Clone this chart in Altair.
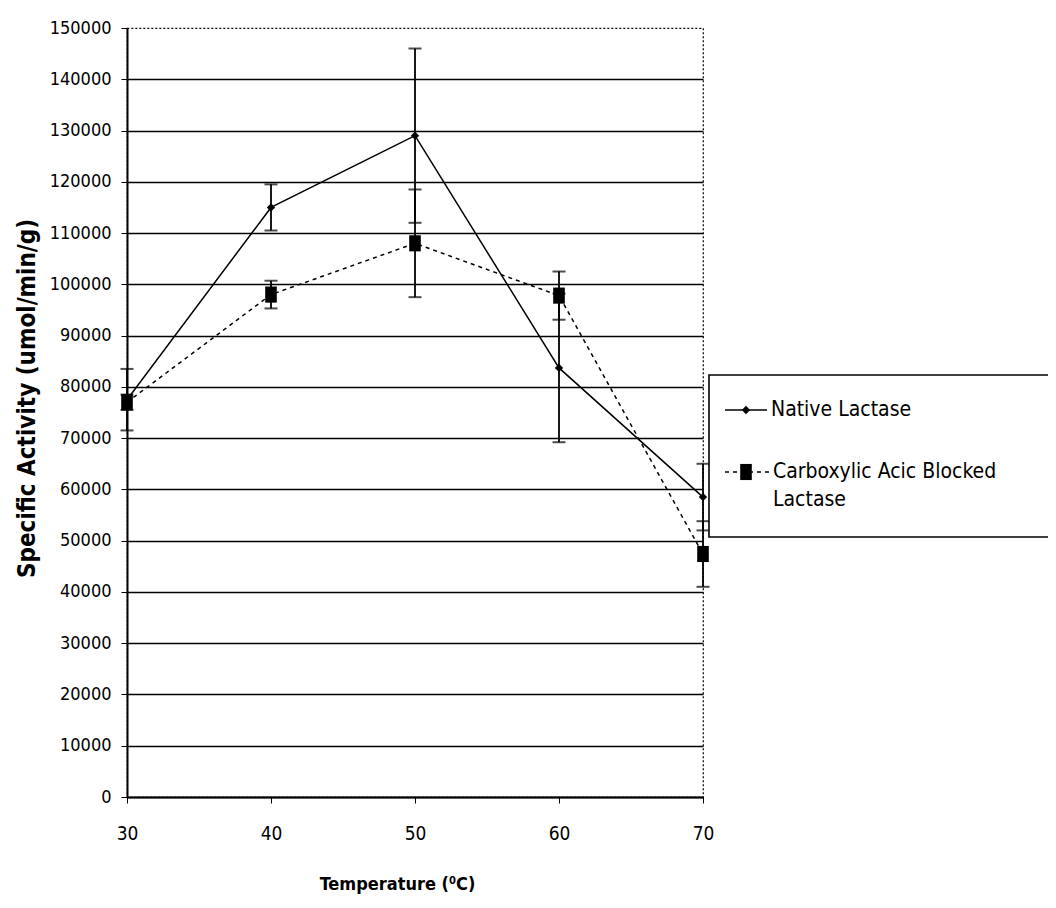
import altair as alt
import pandas as pd

temps = [30, 40, 50, 60, 70]
native = [77500, 115000, 129000, 83700, 58500]
native_err = [6000, 4500, 17000, 14500, 6500]
carb = [77000, 98000, 108000, 97800, 47400]
carb_err = [1500, 2700, 10500, 4700, 6400]
series_names = ["Native Lactase", "Carboxylic Acic Blocked Lactase"]
legend_lines = [["Native Lactase"], ["Carboxylic Acic Blocked", "Lactase"]]
y_ticks = list(range(0, 150001, 10000))
x_ticks = [30, 40, 50, 60, 70]

rows = []
for t, v, e in zip(temps, native, native_err):
    rows.append({"T": t, "v": v, "lo": v - e, "hi": v + e, "s": series_names[0]})
for t, v, e in zip(temps, carb, carb_err):
    rows.append({"T": t, "v": v, "lo": v - e, "hi": v + e, "s": series_names[1]})
df = pd.DataFrame(rows)
dn = df[df.s == series_names[0]]
dc = df[df.s == series_names[1]]

W, H = 576, 769
FONT = "'DejaVu Sans Condensed', 'DejaVu Sans', sans-serif"
BOLD = "'DejaVu Sans Condensed', 'Liberation Sans', sans-serif"

xs = alt.Scale(domain=[30, 70], nice=False)
ys = alt.Scale(domain=[0, 150000], nice=False)

xenc = alt.X("T:Q", scale=xs, axis=alt.Axis(
    values=x_ticks, title="Temperature (\u2070C)", grid=False,
    labelFont=FONT, labelFontSize=19, labelColor="black", labelPadding=21,
    tickColor="black", tickSize=6, domainColor="black", domainWidth=2,
    titleFont=BOLD, titleFontSize=18, titleFontWeight="bold", titleColor="black",
    titlePadding=32, titleX=270, titleAlign="center", labelFlush=False))
yenc = alt.Y("v:Q", scale=ys, axis=alt.Axis(
    values=y_ticks, title="Specific Activity (umol/min/g)", grid=True,
    gridColor="black", gridWidth=1.6,
    gridOpacity={"condition": {"test": "datum.value >= 150000", "value": 0}, "value": 1},
    labelFont=FONT, labelFontSize=18, labelColor="black", labelPadding=10,
    tickColor="black", tickSize=6, domainColor="black", domainWidth=2,
    titleFont=BOLD, titleFontSize=24, titleFontWeight="bold",
    titleColor="black", titlePadding=10, titleY=370, format="d"))

base_n = alt.Chart(dn)
base_c = alt.Chart(dc)

line_n = base_n.mark_line(color="black", strokeWidth=1.5).encode(x=xenc, y=yenc)
line_c = base_c.mark_line(color="black", strokeWidth=1.5, strokeDash=[4, 4]).encode(x="T:Q", y="v:Q")

err_n = base_n.mark_rule(color="black", strokeWidth=1.8).encode(x="T:Q", y="lo:Q", y2="hi:Q")
err_c = base_c.mark_rule(color="black", strokeWidth=1.8).encode(x="T:Q", y="lo:Q", y2="hi:Q")
cap_kw = dict(orient="horizontal", color="black", size=13, thickness=2)
cap_n_lo = base_n.mark_tick(**cap_kw).encode(x="T:Q", y="lo:Q")
cap_n_hi = base_n.mark_tick(**cap_kw).encode(x="T:Q", y="hi:Q")
cap_c_lo = base_c.mark_tick(**cap_kw).encode(x="T:Q", y="lo:Q")
cap_c_hi = base_c.mark_tick(**cap_kw).encode(x="T:Q", y="hi:Q")

SQ = "M-0.72,-1L0.72,-1L0.72,1L-0.72,1Z"
pt_n = base_n.mark_point(shape="diamond", filled=True, color="black", size=70, opacity=1).encode(x="T:Q", y="v:Q")
pt_c = base_c.mark_point(shape=SQ, filled=True, color="black", size=260, opacity=1).encode(x="T:Q", y="v:Q")

# Legend (drawn manually, partly outside the plot area on the right)
one = pd.DataFrame({"a": [0]})
LX0, LX1, LY0, LY1 = 582, 940, 347, 509
leg_box = alt.Chart(one).mark_rect(fill="white", stroke="black", strokeWidth=1.6).encode(
    x=alt.value(LX0), x2=alt.value(LX1), y=alt.value(LY0), y2=alt.value(LY1))
leg_l1 = alt.Chart(one).mark_rule(color="black", strokeWidth=1.5).encode(
    x=alt.value(598), x2=alt.value(640), y=alt.value(382))
leg_p1 = alt.Chart(one).mark_point(shape="diamond", filled=True, color="black", size=70, opacity=1).encode(
    x=alt.value(619), y=alt.value(382))
leg_t1 = alt.Chart(one).mark_text(align="left", baseline="middle", font=FONT, fontSize=21, color="black").encode(
    x=alt.value(644), y=alt.value(382), text=alt.value(legend_lines[0][0]))
leg_l2 = alt.Chart(one).mark_rule(color="black", strokeWidth=1.5, strokeDash=[4, 4]).encode(
    x=alt.value(598), x2=alt.value(642), y=alt.value(444))
leg_p2 = alt.Chart(one).mark_point(shape=SQ, filled=True, color="black", size=260, opacity=1).encode(
    x=alt.value(619), y=alt.value(444))
leg_t2 = alt.Chart(one).mark_text(align="left", baseline="middle", font=FONT, fontSize=21, color="black", lineHeight=28).encode(
    x=alt.value(646), y=alt.value(444), text=alt.value(legend_lines[1]))

chart = alt.layer(
    line_n, line_c, err_n, err_c, cap_n_lo, cap_n_hi, cap_c_lo, cap_c_hi, pt_n, pt_c,
    leg_box, leg_l1, leg_p1, leg_t1, leg_l2, leg_p2, leg_t2
).properties(
    width=W, height=H,
    autosize=alt.AutoSizeParams(type="none"),
    padding={"left": 119, "top": 20, "right": 345, "bottom": 103},
    background="white"
).configure_view(
    stroke="black", strokeDash=[2, 2], strokeWidth=1.2
)

chart.save("out.html", embed_options={"renderer": "svg", "actions": False})
